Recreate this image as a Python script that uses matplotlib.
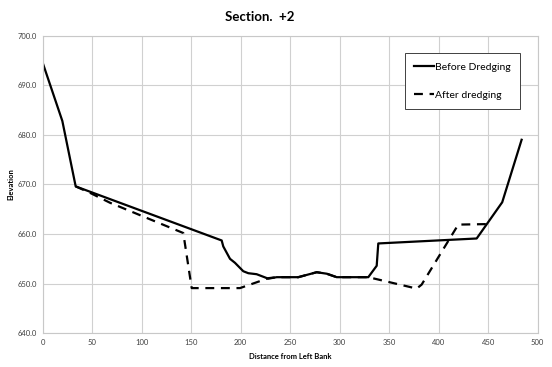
import matplotlib.pyplot as plt

# before dredging (distance from left bank, elevation)
before_x = [0, 19.8, 33.3, 180.8, 182.4, 189.2, 194.2, 202.6, 207.7, 216.1, 227.9,
            236.4, 258.2, 276.8, 286.9, 297.0, 328.9, 337.4, 339.0, 438.4, 464.2, 483.8]
before_y = [694.5, 682.8, 669.6, 658.7, 657.5, 655.0, 654.2, 652.5, 652.1, 651.9, 651.0,
            651.3, 651.3, 652.3, 652.0, 651.3, 651.3, 653.6, 658.1, 659.1, 666.4, 679.0]

# after dredging
after_x = [33.3, 47.8, 68.0, 142.0, 150.5, 199.3, 228.0, 236.4, 258.2, 276.8, 286.9,
           297.0, 328.9, 377.8, 382.8, 419.8, 448.5]
after_y = [669.6, 668.3, 666.3, 660.2, 649.1, 649.1, 651.1, 651.3, 651.3, 652.3, 652.0,
           651.3, 651.3, 649.0, 649.8, 661.9, 662.0]

plt.rcParams['font.family'] = ['Lato', 'DejaVu Sans']

fig = plt.figure(figsize=(5.52, 3.67), dpi=100)
ax = fig.add_axes([0.0774, 0.092, 0.8966, 0.811])

ax.plot(before_x, before_y, color='black', lw=1.6, label='Before Dredging')
ax.plot(after_x, after_y, color='black', lw=1.6, dashes=(4, 3), label='After dredging')

ax.set_xlim(0, 500)
ax.set_ylim(640, 700)
ax.set_xticks(range(0, 501, 50))
ax.set_yticks(range(640, 701, 10))
ax.set_yticklabels([f'{v:.1f}' for v in range(640, 701, 10)])
ax.grid(True, color='#d0d0d0', lw=0.8)
ax.set_axisbelow(True)
for s in ax.spines.values():
    s.set_color('#c8c8c8')
    s.set_linewidth(0.8)
ax.tick_params(length=0, labelsize=5.5, colors='#404040', pad=4)

fig.text(0.471, 1 - 17 / 367, 'Section.  +2', fontsize=9.5, fontweight='bold',
         ha='center', va='center')
ax.set_xlabel('Distance from Left Bank', fontsize=5.5, fontweight='bold', labelpad=5)
ax.set_ylabel('Elevation', fontsize=5.5, fontweight='bold')
ax.yaxis.set_label_coords(-0.057, 0.5)

leg = ax.legend(loc='upper left', bbox_to_anchor=(0.732, 0.941), fontsize=7.5,
                labelspacing=1.8, borderpad=0.9, handlelength=1.9, handletextpad=0.1,
                borderaxespad=0, fancybox=False, framealpha=1, edgecolor='#404040')
leg.get_frame().set_linewidth(0.7)

fig.savefig('out.png', dpi=100)
